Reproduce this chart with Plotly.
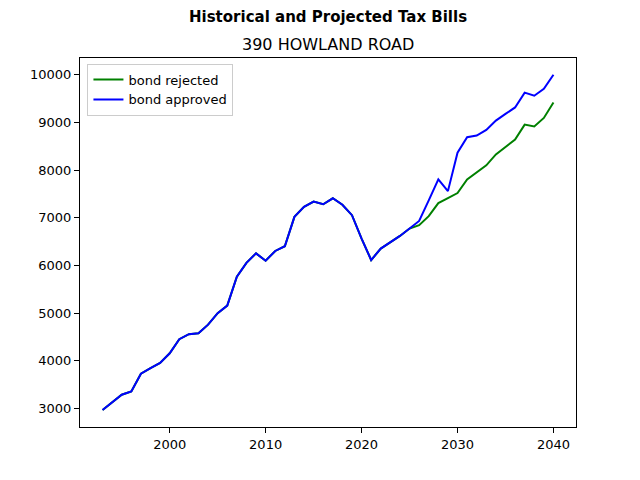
import plotly.graph_objects as go

years = list(range(1993, 2041))

# shared history up to 2025, then the two projections split
approved = [2970, 3130, 3290, 3360, 3730, 3850, 3955, 4160, 4455, 4560,
            4580, 4760, 5000, 5160, 5765, 6055, 6255, 6100, 6305, 6405,
            7020, 7230, 7340, 7285, 7410, 7275, 7055, 6565, 6115, 6355,
            6490, 6620, 6775, 6935, 7365, 7805, 7560, 8365, 8690, 8725,
            8845, 9040, 9180, 9315, 9625, 9560, 9705, 10000]
rejected = approved[:33] + [6845, 7035, 7310, 7415, 7520, 7805, 7960,
                            8100, 8330, 8480, 8640, 8955, 8915, 9095, 9420]

y_ticks = list(range(3000, 10001, 1000))
x_ticks = [2000, 2010, 2020, 2030, 2040]

fig = go.Figure()
fig.add_trace(go.Scatter(x=years, y=rejected, mode="lines", name="bond rejected",
                         line=dict(color="green", width=2)))
fig.add_trace(go.Scatter(x=years, y=approved, mode="lines", name="bond approved",
                         line=dict(color="blue", width=2)))

axis_style = dict(showline=True, linecolor="black", linewidth=1, mirror=True,
                  ticks="outside", ticklen=5, tickcolor="black", showgrid=False,
                  zeroline=False, automargin=False,
                  tickfont=dict(size=13, color="black"))

# page body adds 8px, so margins are shifted to compensate
fig.update_layout(
    width=640, height=480,
    margin=dict(l=72, r=72, t=50, b=61),
    paper_bgcolor="white", plot_bgcolor="white",
    font=dict(family="DejaVu Sans", color="black"),
    showlegend=True,
    legend=dict(x=0.015, y=0.985, xanchor="left", yanchor="top",
                bordercolor="#cccccc", borderwidth=1, bgcolor="white",
                font=dict(size=13)),
    annotations=[
        dict(text="<b>Historical and Projected Tax Bills</b>", x=0.5, y=1,
             xref="paper", yref="paper", showarrow=False, yanchor="middle",
             yshift=41, font=dict(size=15)),
        dict(text="390 HOWLAND ROAD", x=0.5, y=1, xref="paper", yref="paper",
             showarrow=False, yanchor="middle", yshift=14, font=dict(size=16)),
    ],
)
fig.update_xaxes(range=[1990.65, 2042.35], tickvals=x_ticks, **axis_style)
fig.update_yaxes(range=[2613, 10352], tickvals=y_ticks,
                 ticktext=[str(v) for v in y_ticks], **axis_style)

fig.write_html("out.html")
